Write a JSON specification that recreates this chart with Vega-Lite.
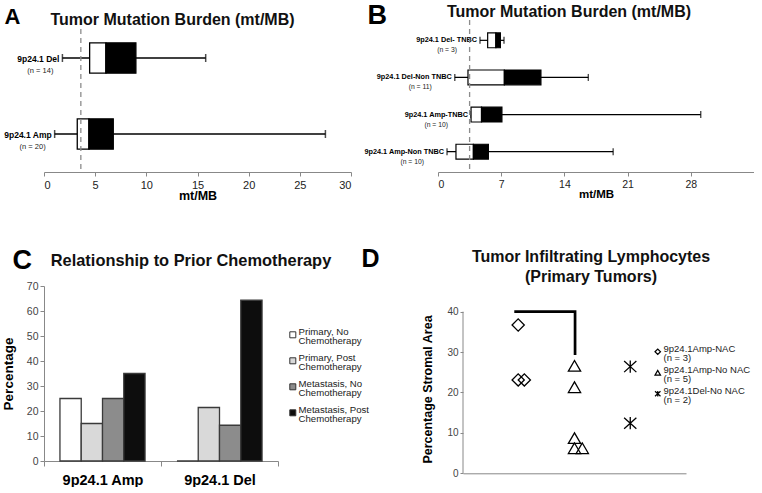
{
  "$schema": "https://vega.github.io/schema/vega-lite/v6.json",
  "padding": {"left": 1, "top": 1, "right": 0, "bottom": 0},
  "background": "white",
  "config": {
    "font": "Liberation Sans",
    "view": {"stroke": null},
    "axis": {"grid": false},
    "legend": {"padding": 0},
    "style": {"guide-label": {"lineHeight": 9.5}}
  },
  "datasets": {
    "tmbA": [
      {"group": "9p24.1 Del", "n": "(n = 14)", "min": 1.8, "q1": 4.46, "med": 6.05, "q3": 8.98, "max": 15.8},
      {"group": "9p24.1 Amp", "n": "(n = 20)", "min": 1.04, "q1": 3.25, "med": 4.39, "q3": 6.77, "max": 27.5}
    ],
    "tmbB": [
      {"group": "9p24.1 Del- TNBC", "n": "(n = 3)", "min": 4.65, "q1": 5.5, "med": 6.41, "q3": 6.91, "max": 7.31},
      {"group": "9p24.1 Del-Non TNBC", "n": "(n = 11)", "min": 1.86, "q1": 3.32, "med": 7.35, "q3": 11.4, "max": 16.65},
      {"group": "9p24.1 Amp-TNBC", "n": "(n = 10)", "min": 3.66, "q1": 3.66, "med": 4.82, "q3": 7.08, "max": 29.1},
      {"group": "9p24.1 Amp-Non TNBC", "n": "(n = 10)", "min": 1.0, "q1": 1.99, "med": 3.92, "q3": 5.58, "max": 19.4}
    ],
    "cutA": [{"cut": 3.6}],
    "cutB": [{"cut": 3.5}],
    "chemo": [
      {"status": "9p24.1 Amp", "group": "Primary, No Chemotherapy", "pct": 25},
      {"status": "9p24.1 Amp", "group": "Primary, Post Chemotherapy", "pct": 15},
      {"status": "9p24.1 Amp", "group": "Metastasis, No Chemotherapy", "pct": 25},
      {"status": "9p24.1 Amp", "group": "Metastasis, Post Chemotherapy", "pct": 35},
      {"status": "9p24.1 Del", "group": "Primary, No Chemotherapy", "pct": 0},
      {"status": "9p24.1 Del", "group": "Primary, Post Chemotherapy", "pct": 21.4},
      {"status": "9p24.1 Del", "group": "Metastasis, No Chemotherapy", "pct": 14.3},
      {"status": "9p24.1 Del", "group": "Metastasis, Post Chemotherapy", "pct": 64.3}
    ],
    "til": [
      {"group": "9p24.1Amp-NAC", "x": 0.99, "pct": 36.7},
      {"group": "9p24.1Amp-NAC", "x": 0.99, "pct": 23.1},
      {"group": "9p24.1Amp-NAC", "x": 1.1, "pct": 23.1},
      {"group": "9p24.1Amp-No NAC", "x": 2.0, "pct": 26.6},
      {"group": "9p24.1Amp-No NAC", "x": 2.0, "pct": 21.3},
      {"group": "9p24.1Amp-No NAC", "x": 2.0, "pct": 8.7},
      {"group": "9p24.1Amp-No NAC", "x": 2.0, "pct": 6.2},
      {"group": "9p24.1Amp-No NAC", "x": 2.14, "pct": 6.2},
      {"group": "9p24.1Del-No NAC", "x": 3.0, "pct": 26.4},
      {"group": "9p24.1Del-No NAC", "x": 3.0, "pct": 12.4}
    ],
    "bracket": [
      {"i": 1, "x": 0.92, "y": 40},
      {"i": 2, "x": 2.01, "y": 40},
      {"i": 3, "x": 2.01, "y": 29.3}
    ]
  },
  "spacing": 44,
  "resolve": {"scale": {"fill": "independent", "shape": "independent"}, "legend": {"fill": "independent", "shape": "independent"}},
  "vconcat": [
    {
      "hconcat": [
        {
          "width": 307,
          "height": 152,
          "data": {"name": "tmbA"},
          "title": {"text": "Tumor Mutation Burden (mt/MB)", "frame": "group", "anchor": "middle", "dx": -25, "offset": -23, "fontSize": 16, "fontWeight": "bold", "color": "#111"},
          "layer": [
            {
              "mark": {"type": "rule", "color": "#000", "strokeWidth": 1.3},
              "encoding": {
                "y": {"field": "group", "type": "nominal", "scale": {"domain": ["9p24.1 Del", "9p24.1 Amp"], "paddingInner": 0.6, "paddingOuter": 0.3},
                  "axis": {"labels": false, "ticks": false, "domain": false, "minExtent": 0, "maxExtent": 0, "titlePadding": 0, "title": "A", "titleAngle": 0, "titleX": -40, "titleY": 3, "titleAlign": "left", "titleBaseline": "alphabetic", "titleFontSize": 22, "titleFontWeight": "bold", "titleColor": "#000"}},
                "x": {"field": "min", "type": "quantitative", "scale": {"domain": [0, 30]},
                  "axis": {"values": [0, 5, 10, 15, 20, 25, 30], "labelOverlap": false, "title": "mt/MB", "titleFontSize": 12.5, "titleFontWeight": "bold", "titleColor": "#000", "titlePadding": -1, "labelFontSize": 11, "labelColor": "#222", "labelPadding": 3, "domainColor": "#888", "tickColor": "#888", "tickSize": 4}},
                "x2": {"field": "max"}
              }
            },
            {"mark": {"type": "tick", "color": "#000", "size": 8, "thickness": 1.5}, "encoding": {"y": {"field": "group", "type": "nominal"}, "x": {"field": "min", "type": "quantitative"}}},
            {"mark": {"type": "tick", "color": "#000", "size": 8, "thickness": 1.5}, "encoding": {"y": {"field": "group", "type": "nominal"}, "x": {"field": "max", "type": "quantitative"}}},
            {"mark": {"type": "bar", "fill": "#fff", "stroke": "#000", "strokeWidth": 1.3}, "encoding": {"y": {"field": "group", "type": "nominal"}, "x": {"field": "q1", "type": "quantitative"}, "x2": {"field": "med"}}},
            {"mark": {"type": "bar", "fill": "#000", "stroke": "#000", "strokeWidth": 1.3}, "encoding": {"y": {"field": "group", "type": "nominal"}, "x": {"field": "med", "type": "quantitative"}, "x2": {"field": "q3"}}},
            {"mark": {"type": "text", "align": "right", "baseline": "middle", "dx": -3, "dy": 1, "fontSize": 8.5, "fontWeight": "bold", "color": "#000"}, "encoding": {"y": {"field": "group", "type": "nominal"}, "x": {"field": "min", "type": "quantitative"}, "text": {"field": "group"}}},
            {"mark": {"type": "text", "align": "right", "baseline": "middle", "dx": -9, "dy": 12.5, "fontSize": 7.5, "color": "#222"}, "encoding": {"y": {"field": "group", "type": "nominal"}, "x": {"field": "min", "type": "quantitative"}, "text": {"field": "n"}}},
            {"data": {"name": "cutA"}, "mark": {"type": "rule", "color": "#8c8c8c", "strokeDash": [5, 4], "strokeWidth": 1.3}, "encoding": {"x": {"field": "cut", "type": "quantitative"}}}
          ]
        },
        {
          "width": 316,
          "height": 152,
          "data": {"name": "tmbB"},
          "title": {"text": "Tumor Mutation Burden (mt/MB)", "frame": "group", "anchor": "middle", "dx": -27, "offset": -18.5, "fontSize": 16, "fontWeight": "bold", "color": "#111"},
          "layer": [
            {
              "mark": {"type": "rule", "color": "#000", "strokeWidth": 1.2},
              "encoding": {
                "y": {"field": "group", "type": "nominal", "scale": {"domain": ["9p24.1 Del- TNBC", "9p24.1 Del-Non TNBC", "9p24.1 Amp-TNBC", "9p24.1 Amp-Non TNBC"], "paddingInner": 0.6, "paddingOuter": 0.348},
                  "axis": {"labels": false, "ticks": false, "domain": false, "minExtent": 0, "maxExtent": 0, "titlePadding": 0, "title": "B", "titleAngle": 0, "titleX": -71, "titleY": 3, "titleAlign": "left", "titleBaseline": "alphabetic", "titleFontSize": 27, "titleFontWeight": "bold", "titleColor": "#000"}},
                "x": {"field": "min", "type": "quantitative", "scale": {"domain": [0, 31.5]},
                  "axis": {"values": [0, 3.5, 7, 10.5, 14, 17.5, 21, 24.5, 28, 31.5], "labelOverlap": false, "title": "mt/MB", "titleFontSize": 11.5, "titleFontWeight": "bold", "titleColor": "#000", "titlePadding": -1, "labelFontSize": 10.5, "labelColor": "#222", "labelPadding": 3, "domainColor": "#888", "tickColor": "#888", "tickSize": 4}},
                "x2": {"field": "max"}
              }
            },
            {"mark": {"type": "tick", "color": "#000", "size": 7, "thickness": 1.4}, "encoding": {"y": {"field": "group", "type": "nominal"}, "x": {"field": "min", "type": "quantitative"}}},
            {"mark": {"type": "tick", "color": "#000", "size": 7, "thickness": 1.4}, "encoding": {"y": {"field": "group", "type": "nominal"}, "x": {"field": "max", "type": "quantitative"}}},
            {"mark": {"type": "bar", "fill": "#fff", "stroke": "#000", "strokeWidth": 1.2}, "encoding": {"y": {"field": "group", "type": "nominal"}, "x": {"field": "q1", "type": "quantitative"}, "x2": {"field": "med"}}},
            {"mark": {"type": "bar", "fill": "#000", "stroke": "#000", "strokeWidth": 1.2}, "encoding": {"y": {"field": "group", "type": "nominal"}, "x": {"field": "med", "type": "quantitative"}, "x2": {"field": "q3"}}},
            {"mark": {"type": "text", "align": "right", "baseline": "middle", "dx": -3, "dy": 0, "fontSize": 7.3, "fontWeight": "bold", "color": "#000"}, "encoding": {"y": {"field": "group", "type": "nominal"}, "x": {"field": "min", "type": "quantitative"}, "text": {"field": "group"}}},
            {"mark": {"type": "text", "align": "right", "baseline": "middle", "dx": -23, "dy": 10, "fontSize": 6.8, "color": "#222"}, "encoding": {"y": {"field": "group", "type": "nominal"}, "x": {"field": "min", "type": "quantitative"}, "text": {"field": "n"}}},
            {"data": {"name": "cutB"}, "mark": {"type": "rule", "color": "#8c8c8c", "strokeDash": [5, 4], "strokeWidth": 1.3}, "encoding": {"x": {"field": "cut", "type": "quantitative"}}}
          ]
        }
      ],
      "bounds": "flush",
      "spacing": 87
    },
    {
      "resolve": {"scale": {"fill": "independent", "shape": "independent"}, "legend": {"fill": "independent", "shape": "independent"}},
      "bounds": "flush",
      "spacing": 185,
      "hconcat": [
        {
          "width": 234,
          "height": 175,
          "data": {"name": "chemo"},
          "title": {"text": "Relationship to Prior Chemotherapy", "frame": "group", "anchor": "middle", "dx": 30, "offset": -23, "fontSize": 16.4, "fontWeight": "bold", "color": "#111"},
          "mark": {"type": "bar", "stroke": "#3a3a3a", "strokeWidth": 1.3},
          "encoding": {
            "x": {"field": "status", "type": "nominal", "scale": {"paddingInner": 0, "paddingOuter": 0},
              "axis": {"title": "C", "titleX": -32, "titleY": -193, "titleAlign": "left", "titleBaseline": "alphabetic", "titleFontSize": 27, "titleFontWeight": "bold", "titleColor": "#000",
                "labelAngle": 0, "labelFontSize": 14.5, "labelFontWeight": "bold", "labelColor": "#000", "labelPadding": 7, "tickBand": "extent", "tickSize": 5, "tickColor": "#888", "domainColor": "#888"}},
            "xOffset": {"field": "group", "type": "nominal", "scale": {"domain": ["Primary, No Chemotherapy", "Primary, Post Chemotherapy", "Metastasis, No Chemotherapy", "Metastasis, Post Chemotherapy"], "paddingInner": 0, "paddingOuter": 0.75}},
            "y": {"field": "pct", "type": "quantitative", "scale": {"domain": [0, 70]},
              "axis": {"values": [0, 10, 20, 30, 40, 50, 60, 70], "title": "Percentage", "titleFontSize": 13.5, "titleFontWeight": "bold", "titleColor": "#000", "titlePadding": 11, "labelFontSize": 10.5, "labelColor": "#444", "tickColor": "#888", "domainColor": "#888", "tickSize": 4}},
            "fill": {"field": "group", "type": "nominal",
              "scale": {"domain": ["Primary, No Chemotherapy", "Primary, Post Chemotherapy", "Metastasis, No Chemotherapy", "Metastasis, Post Chemotherapy"], "range": ["#ffffff", "#d9d9d9", "#8c8c8c", "#0d0d0d"]},
              "legend": {"orient": "none", "legendX": 244, "legendY": 44, "title": null,
                "labelExpr": "[replace(datum.label, ' Chemotherapy', ''), 'Chemotherapy']",
                "labelFontSize": 9.6, "labelColor": "#222", "labelLimit": 200, "labelOffset": 1, "labelBaseline": "alphabetic",
                "symbolType": "square", "symbolSize": 36, "symbolStrokeColor": "#333", "symbolStrokeWidth": 1, "rowPadding": 6}}
          }
        },
        {
          "width": 223,
          "height": 187.3,
          "title": {"text": ["Tumor Infiltrating Lymphocytes", "(Primary Tumors)"], "frame": "group", "anchor": "middle", "dx": 16.5, "offset": -39, "lineHeight": 20, "fontSize": 16, "fontWeight": "bold", "color": "#111"},
          "layer": [
            {
              "data": {"name": "bracket"},
              "mark": {"type": "line", "color": "#000", "strokeWidth": 2.7, "strokeCap": "butt", "strokeJoin": "miter"},
              "encoding": {
                "x": {"field": "x", "type": "quantitative", "scale": {"domain": [0, 4]},
                  "axis": {"title": "D", "titleX": -102, "titleY": -207, "titleAlign": "left", "titleBaseline": "alphabetic", "titleFontSize": 25, "titleFontWeight": "bold", "titleColor": "#000", "labels": false, "ticks": false, "domainColor": "#888"}},
                "y": {"field": "y", "type": "quantitative", "scale": {"domain": [0, 46.35], "nice": false},
                  "axis": {"values": [0, 5, 10, 15, 20, 25, 30, 35, 40], "domain": false, "title": "Percentage Stromal Area", "titleX": -35.5, "titleY": 103, "titleAngle": -90, "titleAlign": "center", "titleBaseline": "middle", "titleFontSize": 12.5, "titleFontWeight": "bold", "titleColor": "#000", "labelFontSize": 10, "labelColor": "#444", "tickColor": "#888", "tickSize": 3}},
                "order": {"field": "i"}
              }
            },
            {
              "data": {"values": [{}]},
              "mark": {"type": "rule", "color": "#888", "strokeWidth": 1},
              "encoding": {"x": {"datum": 0, "type": "quantitative"}, "y": {"datum": 0, "type": "quantitative"}, "y2": {"datum": 40}}
            },
            {
              "data": {"name": "til"},
              "mark": {"type": "point", "filled": false, "stroke": "#000", "strokeWidth": 1.3, "opacity": 1, "size": 150},
              "encoding": {
                "x": {"field": "x", "type": "quantitative"},
                "y": {"field": "pct", "type": "quantitative"},
                "shape": {"field": "group", "type": "nominal",
                  "scale": {"domain": ["9p24.1Amp-NAC", "9p24.1Amp-No NAC", "9p24.1Del-No NAC"], "range": ["diamond", "triangle-up", "M-1,-0.9L1,0.9M-1,0.9L1,-0.9M0,-1V1"]},
                  "legend": {"orient": "none", "legendX": 190, "legendY": 61, "title": null,
                    "labelExpr": "datum.label == '9p24.1Amp-NAC' ? ['9p24.1Amp-NAC', '\u00a0\u00a0(n = 3)'] : datum.label == '9p24.1Amp-No NAC' ? ['9p24.1Amp-No NAC', '\u00a0\u00a0(n = 5)'] : ['9p24.1Del-No NAC', '\u00a0\u00a0(n = 2)']",
                    "labelFontSize": 9.5, "labelColor": "#222", "labelLimit": 200, "labelOffset": 1, "labelBaseline": "alphabetic",
                    "symbolSize": 30, "symbolStrokeColor": "#000", "symbolFillColor": "transparent", "symbolStrokeWidth": 1.2, "rowPadding": 1}}
              }
            }
          ]
        }
      ]
    }
  ]
}
